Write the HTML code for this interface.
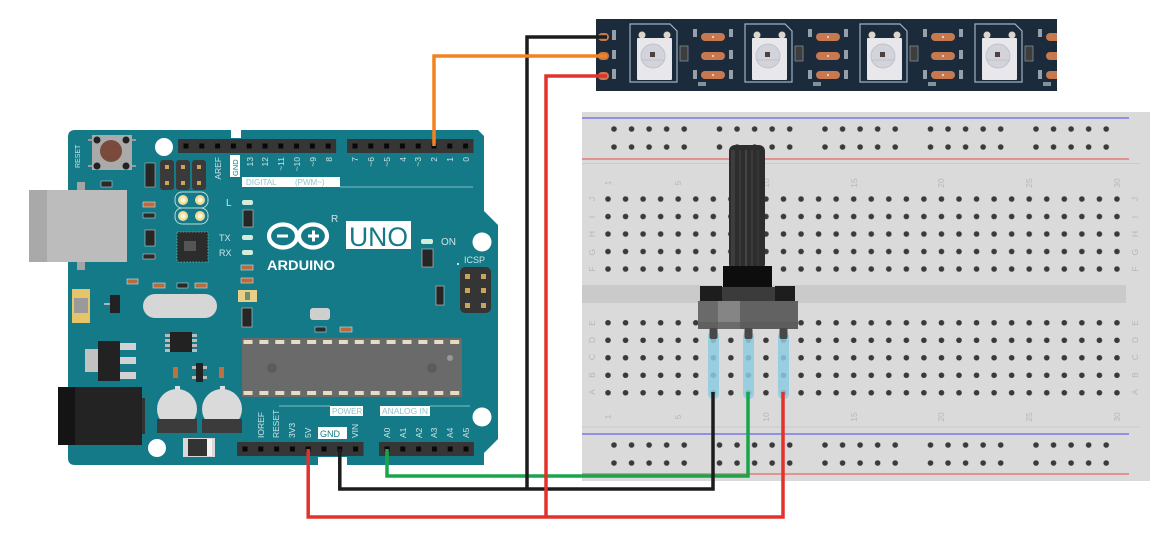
<!DOCTYPE html>
<html><head><meta charset="utf-8"><style>
html,body{margin:0;padding:0;background:#fff;width:1171px;height:543px;overflow:hidden}
svg{display:block}
text{font-family:"Liberation Sans",sans-serif}
</style></head><body>
<svg width="1171" height="543" viewBox="0 0 1171 543" xmlns="http://www.w3.org/2000/svg">
<defs>
<pattern id="hg" patternUnits="userSpaceOnUse" width="17.55" height="17.5"><circle cx="8.775" cy="8.75" r="2.8" fill="#3a3a3a"/></pattern>
<pattern id="rg" patternUnits="userSpaceOnUse" width="105.5" height="18">
<circle cx="8.75" cy="9" r="2.8" fill="#3a3a3a"/><circle cx="26.3" cy="9" r="2.8" fill="#3a3a3a"/><circle cx="43.85" cy="9" r="2.8" fill="#3a3a3a"/><circle cx="61.4" cy="9" r="2.8" fill="#3a3a3a"/><circle cx="78.95" cy="9" r="2.8" fill="#3a3a3a"/>
</pattern>
<pattern id="hp" patternUnits="userSpaceOnUse" width="15.8" height="14"><rect x="5.4" y="4.5" width="5" height="5" fill="#080808"/></pattern>
<pattern id="cp" patternUnits="userSpaceOnUse" width="15.9" height="59"><rect x="1.5" y="2" width="9" height="4" fill="#e6dcc2"/><rect x="1.5" y="53" width="9" height="4" fill="#e6dcc2"/></pattern>
<clipPath id="stripclip"><rect x="596" y="19" width="461" height="72"/></clipPath>
<g id="led">
 <path d="M630,24 H670 L677,31 V82 H630 Z" fill="none" stroke="#9fb2c2" stroke-width="1.2"/>
 <rect x="637" y="38" width="35" height="42" fill="#e8e8ec" rx="1"/>
 <circle cx="642" cy="35" r="3.5" fill="#ddd5cc"/>
 <circle cx="667" cy="35" r="3.5" fill="#ddd5cc"/>
 <circle cx="653" cy="56" r="12" fill="#d3d3db" stroke="#c2c3cb"/>
 <line x1="641" y1="60" x2="665" y2="60" stroke="#bcbcc4" stroke-width="0.8"/>
 <rect x="650" y="52" width="5" height="5" fill="#4e4040"/>
 <rect x="680" y="46" width="8" height="15" fill="#3e3e3e" stroke="#9aa8b4" stroke-width="0.6"/>
 <rect x="701" y="33" width="24" height="8" rx="4" fill="#c7784e"/>
 <rect x="701" y="52" width="24" height="8" rx="4" fill="#c7784e"/>
 <rect x="701" y="71" width="24" height="8" rx="4" fill="#c7784e"/>
 <circle cx="713" cy="37" r="1" fill="#f5e6dc"/><circle cx="713" cy="56" r="1" fill="#f5e6dc"/><circle cx="713" cy="75" r="1" fill="#f5e6dc"/>
 <rect x="693" y="29" width="4" height="8" fill="#c9d3dc" opacity="0.7"/>
 <rect x="729" y="29" width="4" height="8" fill="#c9d3dc" opacity="0.7"/>
 <rect x="729" y="50" width="4" height="9" fill="#c9d3dc" opacity="0.7"/>
 <rect x="729" y="70" width="4" height="9" fill="#c9d3dc" opacity="0.7"/>
 <rect x="693" y="70" width="4" height="9" fill="#c9d3dc" opacity="0.7"/>
 <rect x="698" y="82" width="8" height="4" fill="#c9d3dc" opacity="0.6"/>
</g>
</defs>

<!-- ================= ARDUINO ================= -->
<path d="M75,130 H478 L484,136 V211 L498,225 V439 L484,453 V465 H75 Q68,465 68,458 V137 Q68,130 75,130 Z" fill="#157a88"/>
<rect x="231" y="129" width="10" height="9" fill="#fff"/>
<rect x="318" y="457" width="29" height="9" fill="#fff"/>

<!-- USB -->
<rect x="77" y="182" width="8" height="9" fill="#a4a4a4"/>
<rect x="77" y="261" width="8" height="9" fill="#a4a4a4"/>
<rect x="29" y="190" width="98" height="72" fill="#bcbcbc"/>
<rect x="29" y="190" width="18" height="72" fill="#a9a9a9"/>

<!-- reset button -->
<line x1="88" y1="140" x2="136" y2="140" stroke="#9a9a9a" stroke-width="2"/>
<line x1="88" y1="166" x2="136" y2="166" stroke="#9a9a9a" stroke-width="2"/>
<rect x="92" y="135" width="40" height="35" fill="#aaaaaa"/>
<circle cx="97" cy="140" r="3.5" fill="#222"/><circle cx="126" cy="140" r="3.5" fill="#222"/>
<circle cx="97" cy="166" r="3.5" fill="#222"/><circle cx="126" cy="166" r="3.5" fill="#222"/>
<circle cx="111" cy="151" r="11" fill="#7a4b3c"/>
<text transform="translate(80,168) rotate(-90)" font-size="7" fill="#cfe3e6">RESET</text>

<!-- holes -->
<circle cx="164" cy="147" r="9" fill="#fff"/>
<circle cx="482" cy="242" r="9.5" fill="#fff"/>
<circle cx="482" cy="417" r="9.5" fill="#fff"/>
<circle cx="157" cy="448" r="9" fill="#fff"/>

<!-- small smd parts -->
<rect x="145" y="163" width="10" height="24" fill="#262626" stroke="#bbb" stroke-width="0.6"/>
<rect x="101" y="181" width="11" height="6" fill="#2a2a2a" stroke="#ccc" stroke-width="0.6"/>
<rect x="143" y="202" width="12" height="5" fill="#b86c3e" stroke="#ddd" stroke-width="0.6"/>
<rect x="143" y="213" width="12" height="5" fill="#2a2a2a" stroke="#ccc" stroke-width="0.6"/>
<rect x="145" y="230" width="10" height="16" fill="#262626" stroke="#ccc" stroke-width="0.6"/>
<rect x="143" y="254" width="12" height="5" fill="#2a2a2a" stroke="#ccc" stroke-width="0.6"/>
<rect x="241" y="265" width="12" height="5" fill="#b86c3e" stroke="#ddd" stroke-width="0.6"/>
<rect x="241" y="278" width="12" height="5" fill="#b86c3e" stroke="#ddd" stroke-width="0.6"/>
<rect x="238" y="290" width="19" height="12" fill="#e7cf8a"/>
<rect x="245" y="292" width="5" height="8" fill="#6f8f6a"/>
<rect x="242" y="308" width="10" height="19" fill="#262626" stroke="#ccc" stroke-width="0.6"/>
<rect x="243" y="210" width="10" height="17" fill="#262626" stroke="#ccc" stroke-width="0.6"/>
<rect x="127" y="279" width="11" height="5" fill="#b86c3e" stroke="#ddd" stroke-width="0.6"/>
<rect x="153" y="283" width="12" height="5" fill="#b86c3e" stroke="#ddd" stroke-width="0.6"/>
<rect x="177" y="283" width="11" height="5" fill="#2a2a2a" stroke="#ccc" stroke-width="0.6"/>
<rect x="195" y="283" width="12" height="5" fill="#b86c3e" stroke="#ddd" stroke-width="0.6"/>
<rect x="310" y="308" width="20" height="12" rx="3" fill="#cfcfcf"/>
<rect x="315" y="327" width="11" height="5" fill="#2a2a2a" stroke="#ccc" stroke-width="0.6"/>
<rect x="340" y="327" width="12" height="5" fill="#b86c3e" stroke="#ddd" stroke-width="0.6"/>
<rect x="422" y="249" width="11" height="18" fill="#262626" stroke="#ccc" stroke-width="0.6"/>
<rect x="436" y="286" width="8" height="19" fill="#262626" stroke="#ccc" stroke-width="0.6"/>

<!-- 2x3 header near top -->
<rect x="160" y="160" width="14" height="30" rx="3" fill="#3a3a3a"/>
<rect x="176" y="160" width="14" height="30" rx="3" fill="#3a3a3a"/>
<rect x="192" y="160" width="14" height="30" rx="3" fill="#3a3a3a"/>
<rect x="165" y="165" width="4" height="4" fill="#c9a55a"/><rect x="181" y="165" width="4" height="4" fill="#c9a55a"/><rect x="197" y="165" width="4" height="4" fill="#c9a55a"/>
<rect x="165" y="181" width="4" height="4" fill="#c9a55a"/><rect x="181" y="181" width="4" height="4" fill="#c9a55a"/><rect x="197" y="181" width="4" height="4" fill="#c9a55a"/>

<!-- gold pads -->
<rect x="175" y="192" width="33" height="16" rx="7" fill="none" stroke="#b9d9d6" stroke-width="1"/>
<rect x="175" y="208" width="33" height="16" rx="7" fill="none" stroke="#b9d9d6" stroke-width="1"/>
<circle cx="183" cy="200" r="5" fill="#efdc9c"/><circle cx="200" cy="200" r="5" fill="#efdc9c"/>
<circle cx="183" cy="216" r="5" fill="#efdc9c"/><circle cx="200" cy="216" r="5" fill="#efdc9c"/>
<circle cx="183" cy="200" r="2.5" fill="#fff6d8"/><circle cx="200" cy="200" r="2.5" fill="#fff6d8"/>
<circle cx="183" cy="216" r="2.5" fill="#fff6d8"/><circle cx="200" cy="216" r="2.5" fill="#fff6d8"/>

<!-- 16u2 chip -->
<rect x="177" y="232" width="31" height="30" fill="#2c2c2c" stroke="#8a9" stroke-width="0.8" stroke-dasharray="1.5 1.5"/>
<rect x="184" y="241" width="12" height="10" fill="#555"/>

<!-- LEDs & labels -->
<rect x="242" y="200" width="11" height="5" rx="2" fill="#d4ecd8"/>
<rect x="242" y="235" width="11" height="5" rx="2" fill="#d4ecd8"/>
<rect x="242" y="250" width="11" height="5" rx="2" fill="#d4ecd8"/>
<text x="226" y="206" font-size="10" fill="#cfe3e6">L</text>
<text x="219" y="241" font-size="9" fill="#cfe3e6">TX</text>
<text x="219" y="256" font-size="9" fill="#cfe3e6">RX</text>

<!-- crystal -->
<rect x="143" y="294" width="74" height="24" rx="12" fill="#d6d6d6"/>

<!-- left yellow comp -->
<rect x="72" y="289" width="18" height="34" fill="#e6c46a"/>
<rect x="74" y="298" width="14" height="15" fill="#9a9a9a"/>
<rect x="110" y="295" width="10" height="18" fill="#222"/>
<line x1="104" y1="304" x2="110" y2="304" stroke="#ccc" stroke-width="1.5"/>

<!-- regulator -->
<rect x="85" y="349" width="13" height="23" fill="#c2c2c2"/>
<rect x="98" y="341" width="22" height="40" fill="#222"/>
<rect x="120" y="343" width="16" height="7" fill="#d2d2d2"/>
<rect x="120" y="357" width="16" height="7" fill="#d2d2d2"/>
<rect x="120" y="372" width="16" height="7" fill="#d2d2d2"/>

<!-- 8 pin chip -->
<rect x="165" y="334" width="32" height="3" fill="#bbb"/><rect x="165" y="339" width="32" height="3" fill="#bbb"/><rect x="165" y="344" width="32" height="3" fill="#bbb"/><rect x="165" y="349" width="32" height="3" fill="#bbb"/>
<rect x="170" y="332" width="22" height="20" fill="#222"/>
<rect x="173" y="367" width="5" height="11" fill="#c07040"/>
<rect x="219" y="367" width="5" height="11" fill="#c07040"/>
<rect x="192" y="366" width="15" height="3" fill="#bbb"/><rect x="192" y="376" width="15" height="3" fill="#bbb"/>
<rect x="196" y="363" width="7" height="19" fill="#222"/>

<!-- DC jack -->
<rect x="58" y="387" width="84" height="58" fill="#232323"/>
<rect x="58" y="387" width="17" height="58" fill="#141414"/>
<rect x="142" y="398" width="3" height="36" fill="#333"/>

<!-- capacitors -->
<rect x="175" y="386" width="5" height="6" fill="#ddd"/>
<rect x="220" y="386" width="5" height="6" fill="#ddd"/>
<circle cx="177" cy="409" r="20" fill="#dadada"/>
<circle cx="222" cy="409" r="20" fill="#dadada"/>
<rect x="157" y="419" width="40" height="14" fill="#3b3b3b"/>
<rect x="202" y="419" width="40" height="14" fill="#3b3b3b"/>

<!-- diode -->
<rect x="183" y="438" width="32" height="19" fill="#d8d8d8"/>
<rect x="188" y="439" width="20" height="17" fill="#333"/>
<rect x="207" y="439" width="5" height="17" fill="#f4f4f4"/>

<!-- big chip -->
<rect x="242" y="338" width="220" height="59" fill="#6a6a6a"/>
<rect width="222.6" height="59" fill="url(#cp)" transform="translate(242,338)"/>
<circle cx="272" cy="368" r="5" fill="#5c5c5c"/>
<circle cx="432" cy="368" r="5" fill="#5c5c5c"/>
<circle cx="450" cy="358" r="3" fill="#999"/>

<!-- logo -->
<ellipse cx="283" cy="236" rx="14" ry="11.5" fill="none" stroke="#fff" stroke-width="4.2"/>
<ellipse cx="313" cy="236" rx="14" ry="11.5" fill="none" stroke="#fff" stroke-width="4.2"/>
<rect x="277" y="234.5" width="11" height="3" fill="#fff"/>
<rect x="308" y="234.5" width="11" height="3" fill="#fff"/>
<rect x="312" y="230.5" width="3" height="11" fill="#fff"/>
<text x="331" y="222" font-size="10" fill="#cfe3e6">R</text>
<text x="267" y="270" font-size="13.5" font-weight="bold" fill="#fff" textLength="68" lengthAdjust="spacingAndGlyphs">ARDUINO</text>
<rect x="346" y="221" width="65" height="28" fill="#fff"/>
<text x="349" y="246" font-size="27" fill="#157a88" textLength="59" lengthAdjust="spacingAndGlyphs">UNO</text>
<rect x="421" y="239" width="12" height="5" rx="2" fill="#d4ecd8"/>
<text x="441" y="245" font-size="10" fill="#cfe3e6">ON</text>
<text x="464" y="263" font-size="9" fill="#cfe3e6">ICSP</text>
<circle cx="458" cy="264" r="1" fill="#fff"/>
<rect x="460" y="267" width="31" height="46" rx="5" fill="#353535"/>
<rect x="465" y="274" width="5" height="5" fill="#c9a55a"/><rect x="481" y="274" width="5" height="5" fill="#c9a55a"/>
<rect x="465" y="288" width="5" height="5" fill="#c9a55a"/><rect x="481" y="288" width="5" height="5" fill="#c9a55a"/>
<rect x="465" y="303" width="5" height="5" fill="#c9a55a"/><rect x="481" y="303" width="5" height="5" fill="#c9a55a"/>

<!-- top headers -->
<rect x="178.1" y="139" width="158" height="14" fill="#363636"/>
<rect width="158" height="14" fill="url(#hp)" transform="translate(178.1,139)"/>
<rect x="347.1" y="139" width="126.4" height="14" fill="#363636"/>
<rect width="126.4" height="14" fill="url(#hp)" transform="translate(347.1,139)"/>
<!-- digital labels -->
<g font-size="8.5" fill="#cfe3e6" text-anchor="end">
<text transform="translate(221,157) rotate(-90)">AREF</text>
<text transform="translate(253,157) rotate(-90)">13</text>
<text transform="translate(268,157) rotate(-90)">12</text>
<text transform="translate(284,157) rotate(-90)">~11</text>
<text transform="translate(300,157) rotate(-90)">~10</text>
<text transform="translate(316,157) rotate(-90)">~9</text>
<text transform="translate(332,157) rotate(-90)">8</text>
<text transform="translate(358,157) rotate(-90)">7</text>
<text transform="translate(374,157) rotate(-90)">~6</text>
<text transform="translate(390,157) rotate(-90)">~5</text>
<text transform="translate(406,157) rotate(-90)">4</text>
<text transform="translate(421,157) rotate(-90)">~3</text>
<text transform="translate(437,157) rotate(-90)">2</text>
<text transform="translate(453,157) rotate(-90)">1</text>
<text transform="translate(469,157) rotate(-90)">0</text>
</g>
<rect x="230" y="155" width="10" height="22" fill="#fff"/>
<text transform="translate(238,176) rotate(-90)" font-size="7.5" fill="#157a88">GND</text>
<rect x="242" y="177" width="98" height="10" fill="#fff"/>
<text x="246" y="185" font-size="8" fill="#8fc3cb">DIGITAL</text>
<text x="295" y="185" font-size="8" fill="#8fc3cb">(PWM~)</text>
<line x1="340" y1="187" x2="473" y2="187" stroke="#a9d3d9" stroke-width="0.8"/>

<!-- bottom headers -->
<line x1="279" y1="406" x2="330" y2="406" stroke="#a9d3d9" stroke-width="0.8"/>
<line x1="430" y1="406" x2="470" y2="406" stroke="#a9d3d9" stroke-width="0.8"/>
<rect x="330" y="406" width="33" height="10" fill="#fff"/>
<text x="332" y="414" font-size="8" fill="#8fc3cb">POWER</text>
<rect x="380" y="406" width="50" height="10" fill="#fff"/>
<text x="382" y="414" font-size="8" fill="#8fc3cb" textLength="46" lengthAdjust="spacingAndGlyphs">ANALOG IN</text>
<g font-size="8.5" fill="#cfe3e6">
<text transform="translate(264,438) rotate(-90)">IOREF</text>
<text transform="translate(279,438) rotate(-90)">RESET</text>
<text transform="translate(295,438) rotate(-90)">3V3</text>
<text transform="translate(311,438) rotate(-90)">5V</text>
<text transform="translate(358,438) rotate(-90)">VIN</text>
<text transform="translate(390,438) rotate(-90)">A0</text>
<text transform="translate(406,438) rotate(-90)">A1</text>
<text transform="translate(422,438) rotate(-90)">A2</text>
<text transform="translate(437,438) rotate(-90)">A3</text>
<text transform="translate(453,438) rotate(-90)">A4</text>
<text transform="translate(469,438) rotate(-90)">A5</text>
</g>
<rect x="318" y="427" width="29" height="12" fill="#fff"/>
<text x="320" y="437" font-size="9" fill="#157a88">GND</text>
<rect x="237.1" y="442" width="126.4" height="14" fill="#363636"/>
<rect width="126.4" height="14" fill="url(#hp)" transform="translate(237.1,442)"/>
<rect x="379.1" y="442" width="94.8" height="14" fill="#363636"/>
<rect width="94.8" height="14" fill="url(#hp)" transform="translate(379.1,442)"/>

<!-- ================= LED STRIP ================= -->
<rect x="596" y="19" width="461" height="72" fill="#1c2b3b"/>
<g clip-path="url(#stripclip)">
<use href="#led"/>
<use href="#led" x="115"/>
<use href="#led" x="230"/>
<use href="#led" x="345"/>
</g>
<rect x="598" y="33" width="11" height="8" rx="4" fill="#c7784e"/>
<rect x="598" y="52" width="11" height="8" rx="4" fill="#c7784e"/>
<rect x="598" y="72" width="11" height="8" rx="4" fill="#c7784e"/>
<rect x="612" y="30" width="4" height="10" fill="#c9d3dc" opacity="0.7"/>
<rect x="612" y="50" width="4" height="9" fill="#c9d3dc" opacity="0.7"/>
<rect x="612" y="69" width="4" height="10" fill="#c9d3dc" opacity="0.7"/>

<!-- ================= BREADBOARD ================= -->
<rect x="582" y="112" width="568" height="369" fill="#dadada"/>
<line x1="582" y1="118" x2="1129" y2="118" stroke="#7a78e6" stroke-width="1.6"/>
<line x1="582" y1="159" x2="1129" y2="159" stroke="#e57b7b" stroke-width="1.6"/>
<line x1="582" y1="163.5" x2="1140" y2="163.5" stroke="#cbcbcb" stroke-width="1"/>
<line x1="582" y1="427" x2="1140" y2="427" stroke="#cbcbcb" stroke-width="1"/>
<line x1="582" y1="434" x2="1129" y2="434" stroke="#7a78e6" stroke-width="1.6"/>
<line x1="582" y1="474" x2="1129" y2="474" stroke="#e57b7b" stroke-width="1.6"/>
<rect x="582" y="285" width="544" height="18" fill="#cacaca"/>
<rect width="527.5" height="36" fill="url(#rg)" transform="translate(605.25,120)"/>
<rect width="527.5" height="36" fill="url(#rg)" transform="translate(605.25,436)"/>
<rect width="526.5" height="87.5" fill="url(#hg)" transform="translate(599.225,190.25)"/>
<rect width="526.5" height="87.5" fill="url(#hg)" transform="translate(599.225,314)"/>
<g font-size="8.5" fill="#b7b7b7" text-anchor="middle">
<text transform="translate(611,183) rotate(-90)">1</text>
<text transform="translate(681,183) rotate(-90)">5</text>
<text transform="translate(769,183) rotate(-90)">10</text>
<text transform="translate(857,183) rotate(-90)">15</text>
<text transform="translate(944,183) rotate(-90)">20</text>
<text transform="translate(1032,183) rotate(-90)">25</text>
<text transform="translate(1120,183) rotate(-90)">30</text>
<text transform="translate(611,417) rotate(-90)">1</text>
<text transform="translate(681,417) rotate(-90)">5</text>
<text transform="translate(769,417) rotate(-90)">10</text>
<text transform="translate(857,417) rotate(-90)">15</text>
<text transform="translate(944,417) rotate(-90)">20</text>
<text transform="translate(1032,417) rotate(-90)">25</text>
<text transform="translate(1120,417) rotate(-90)">30</text>
<text transform="translate(595,199) rotate(-90)">J</text>
<text transform="translate(595,217) rotate(-90)">I</text>
<text transform="translate(595,234) rotate(-90)">H</text>
<text transform="translate(595,252) rotate(-90)">G</text>
<text transform="translate(595,269) rotate(-90)">F</text>
<text transform="translate(595,323) rotate(-90)">E</text>
<text transform="translate(595,340) rotate(-90)">D</text>
<text transform="translate(595,357) rotate(-90)">C</text>
<text transform="translate(595,375) rotate(-90)">B</text>
<text transform="translate(595,392) rotate(-90)">A</text>
<text transform="translate(1138,199) rotate(-90)">J</text>
<text transform="translate(1138,217) rotate(-90)">I</text>
<text transform="translate(1138,234) rotate(-90)">H</text>
<text transform="translate(1138,252) rotate(-90)">G</text>
<text transform="translate(1138,269) rotate(-90)">F</text>
<text transform="translate(1138,323) rotate(-90)">E</text>
<text transform="translate(1138,340) rotate(-90)">D</text>
<text transform="translate(1138,357) rotate(-90)">C</text>
<text transform="translate(1138,375) rotate(-90)">B</text>
<text transform="translate(1138,392) rotate(-90)">A</text>
</g>

<!-- ================= POTENTIOMETER ================= -->
<rect x="729" y="145" width="36" height="125" rx="6" fill="#2d2d2d"/>
<rect x="731" y="150" width="4" height="118" fill="#3d3d3d"/>
<rect x="739" y="150" width="2" height="118" fill="#3a3a3a"/>
<rect x="745" y="150" width="2" height="118" fill="#444"/>
<rect x="751" y="150" width="2" height="118" fill="#3a3a3a"/>
<rect x="757" y="150" width="2" height="118" fill="#363636"/>
<rect x="723" y="266" width="49" height="22" fill="#0d0d0d"/>
<rect x="700" y="286" width="22" height="15" fill="#1d1d1d"/>
<rect x="775" y="286" width="20" height="15" fill="#1d1d1d"/>
<rect x="722" y="287" width="53" height="15" fill="#3b3b3b"/>
<rect x="698" y="301" width="100" height="28" fill="#6a6a6a"/>
<rect x="718" y="301" width="22" height="28" fill="#858585"/>
<rect x="740" y="301" width="58" height="28" fill="#626262"/>
<rect x="698" y="322" width="100" height="7" fill="#5a5a5a" opacity="0.6"/>
<rect x="708" y="331" width="11" height="68" rx="5" fill="#8ccbe1" opacity="0.85"/>
<rect x="743" y="331" width="11" height="68" rx="5" fill="#8ccbe1" opacity="0.85"/>
<rect x="778" y="331" width="11" height="68" rx="5" fill="#8ccbe1" opacity="0.85"/>
<rect x="709.5" y="328" width="8" height="11" rx="2" fill="#484848"/>
<rect x="744.5" y="328" width="8" height="11" rx="2" fill="#484848"/>
<rect x="779.5" y="328" width="8" height="11" rx="2" fill="#484848"/>

<!-- ================= WIRES ================= -->
<g fill="none" stroke-width="3.5" stroke-linejoin="miter">
<polyline points="387,449 387,476 748,476 748,392" stroke="#19a54b"/>
<polyline points="339.8,449 339.8,489 713,489 713,392" stroke="#1c1c1c"/>
<polyline points="607,37 527,37 527,489" stroke="#1c1c1c"/>
<polyline points="308.2,449 308.2,517 783,517 783,392" stroke="#e2322b"/>
<polyline points="607,76 546,76 546,517" stroke="#e2322b"/>
<polyline points="434,146 434,56 607,56" stroke="#f4821f"/>
</g>
</svg>
</body></html>
